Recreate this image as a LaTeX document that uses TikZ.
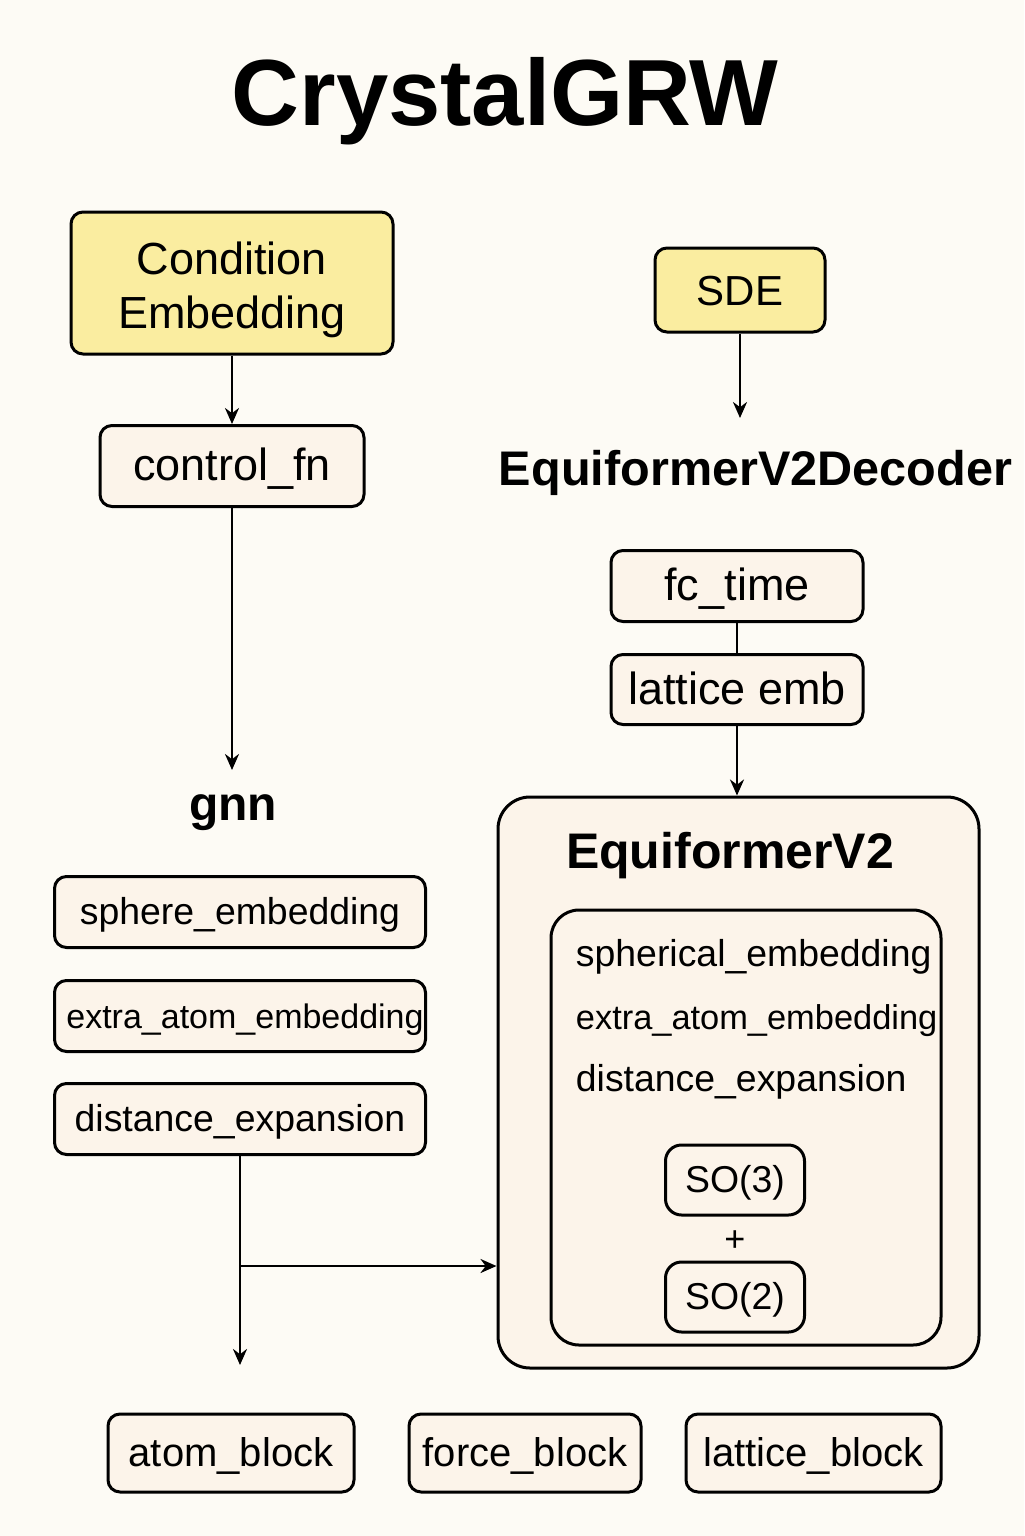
\documentclass[tikz,border=0pt]{standalone}
\usepackage{fontspec}
\setmainfont{Liberation Sans}
\usetikzlibrary{positioning, arrows.meta}
\definecolor{bgcol}{RGB}{253,251,245}
\definecolor{ycol}{RGB}{250,237,160}
\definecolor{pcol}{RGB}{252,244,234}

\begin{document}
\begin{tikzpicture}[x=0.5pt, y=-0.5pt, > = {Stealth[length=8pt,width=7pt]}, line width=1.25pt,
    box/.style = {draw, line width=1.5pt, rounded corners=6pt, fill=pcol, inner sep=0pt},
    ybox/.style = {box, fill=ycol, align=center},
    bigbox/.style = {box, rounded corners=16pt},
    head/.style = {font=\fontsize{24}{28}\bfseries},
    big/.style = {font=\fontsize{22.5}{27}\selectfont, text height=17.5pt, text depth=3pt},
    mid/.style = {font=\fontsize{20}{24}\selectfont, text height=16pt, text depth=2.6pt},
    small/.style = {font=\fontsize{18.7}{22}\selectfont, text height=15pt, text depth=2.5pt}]
    \fill[bgcol] (0,0) rectangle (1024,1536);
    \useasboundingbox (0,0) rectangle (1024,1536);

    \node[font=\fontsize{47}{50}\bfseries, anchor=base] (title) at (505,126) {CrystalGRW};

    % left column
    \node[ybox, minimum width=161pt, minimum height=71pt, font=\fontsize{22.5}{27}\selectfont,
          text height=48.5pt, text depth=3pt] (cond) at (232,283) {Condition\\Embedding};
    \node[box, big, minimum width=132pt, minimum height=40.5pt] (ctrl) at (232,466) {control\_fn};
    \coordinate (gnnin) at (232,770);
    \node[head, anchor=base] (gnn) at (233,820) {gnn};
    \node[box, small, minimum width=185.5pt, minimum height=35.5pt] (sph) at (240,912) {sphere\_embedding};
    \node[box, small, minimum width=185.5pt, minimum height=35.5pt, below=15pt of sph,
          font=\fontsize{17}{20}\selectfont] (xat) {\hspace*{5pt}extra\_atom\_embedding};
    \node[box, small, minimum width=185.5pt, minimum height=35.5pt, below=14.5pt of xat] (dist) {distance\_expansion};
    \coordinate (atomin) at (240,1365);
    \coordinate (br) at (240,1266);

    % right column
    \node[ybox, minimum width=85pt, minimum height=42pt, font=\fontsize{21}{25}\selectfont,
          text height=15pt, text depth=0pt] (sde) at (740,290) {SDE};
    \coordinate (decin) at (740,418);
    \node[head, font=\fontsize{24.3}{30}\bfseries, anchor=base west] (dec) at (491,485) {EquiformerV2Decoder};
    \node[box, big, minimum width=126pt, minimum height=35.5pt] (fct) at (737,586) {fc\_time};
    \node[box, big, minimum width=126pt, minimum height=35pt, below=15pt of fct] (lat) {lattice emb};

    \node[bigbox, minimum width=240.5pt, minimum height=285.5pt] (eqv2) at (738.5,1082.5) {};
    \node[head, font=\fontsize{25}{30}\bfseries, anchor=base] (eqt) at (730,868) {EquiformerV2};
    \node[bigbox, rounded corners=14pt, minimum width=195pt, minimum height=217.5pt] (inner) at (746,1127.5) {};
    \node[anchor=base west, font=\fontsize{18.7}{22}\selectfont] (isph) at (568,966) {spherical\_embedding};
    \node[anchor=base west, font=\fontsize{17.2}{20}\selectfont] (ixat) at (568,1029) {extra\_atom\_embedding};
    \node[anchor=base west, font=\fontsize{18.7}{22}\selectfont] (idist) at (568,1091) {distance\_expansion};
    \node[box, small, rounded corners=8pt, minimum width=69.5pt, minimum height=35pt] (so3) at (735,1180) {SO(3)};
    \node[font=\fontsize{18}{20}\selectfont] (plus) at (735,1241) {+};
    \node[box, small, rounded corners=8pt, minimum width=69.5pt, minimum height=35pt] (so2) at (735,1297) {SO(2)};

    % output blocks
    \node[box, mid, minimum width=123pt, minimum height=39pt] (atom) at (231,1453) {atom\_block};
    \node[box, mid, minimum width=116pt, minimum height=39pt] (force) at (525,1453) {force\_block};
    \node[box, mid, minimum width=127.5pt, minimum height=39pt] (lattice) at (813.5,1453) {lattice\_block};

    \path[->] (cond) edge (ctrl)
    (ctrl) edge (gnnin)
    (sde) edge (decin)
    (lat) edge (lat |- eqv2.north)
    (dist) edge (atomin)
    (br) edge (br -| eqv2.west);
    \path (fct) edge (lat);
\end{tikzpicture}
\end{document}
